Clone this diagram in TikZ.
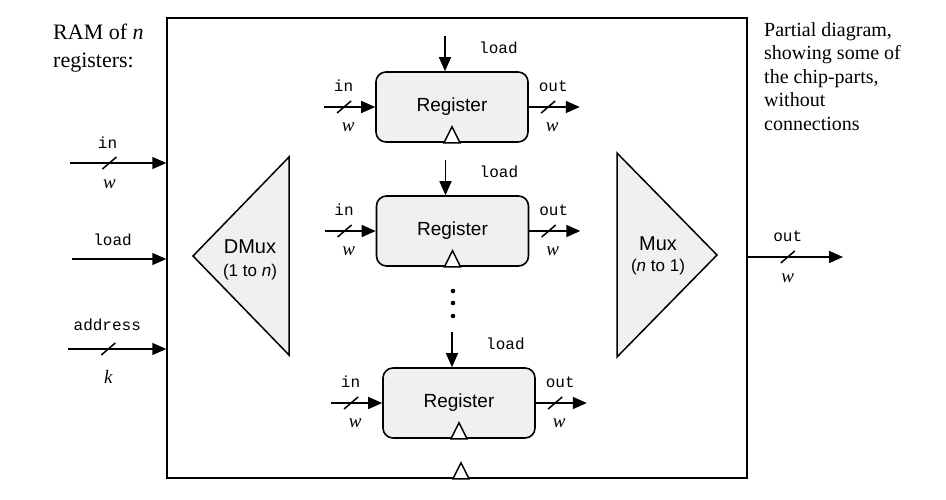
\documentclass[tikz,border=0pt]{standalone}
\usepackage{fontspec}
\setmainfont{Liberation Serif}
\setsansfont{Liberation Sans}
\setmonofont{Liberation Mono}
\usetikzlibrary{arrows.meta,decorations.markings}
\definecolor{gfill}{HTML}{F0F0F0}
\begin{document}
\begin{tikzpicture}[x=1pt,y=-1pt,
  arr/.style={line width=1.5pt,-{Triangle[length=14pt,width=12pt]}},
  bus/.style={postaction={decorate},decoration={markings,mark=at position #1 with {\draw[line width=1.5pt,-] (-7pt,-6pt)--(7pt,6pt);}}},
  regbox/.style={draw,line width=1.6pt,rounded corners=10pt,fill=gfill,minimum width=152pt,minimum height=70pt,inner sep=0pt,font=\sffamily\fontsize{19}{22}\selectfont},
  tri/.style={draw,line width=1.5pt,fill=gfill,line join=miter},
  clk/.style={draw,line width=1.5pt,fill=white,line join=miter},
  monolab/.style={font=\ttfamily\fontsize{16}{18}\selectfont,inner sep=1pt},
  wlab/.style={font=\fontsize{19}{22}\selectfont\itshape,inner sep=1pt},
  sflab/.style={font=\sffamily\fontsize{20}{22}\selectfont,inner sep=0pt},
  sfsmall/.style={font=\sffamily\fontsize{17}{20}\selectfont,inner sep=0pt}
]
\useasboundingbox (0,0) rectangle (946,500);

% main RAM box
\node[draw,line width=1.5pt,minimum width=580pt,minimum height=460pt,inner sep=0pt] (ram) at (457,248) {};
\draw[clk] ([xshift=-4pt]ram.south) -- ([xshift=4pt,yshift=16pt]ram.south) -- ([xshift=12pt]ram.south) -- cycle;

% titles
\node[anchor=north west,align=left,font=\fontsize{22}{28}\selectfont,inner sep=0pt] (title) at (53,24) {RAM of \textit{n}\\registers:};
\node[anchor=north west,align=left,font=\fontsize{20}{23.5}\selectfont,inner sep=0pt] (note) at (764,22) {Partial diagram,\\showing some of\\the chip-parts,\\without\\connections};

% RAM inputs
\coordinate (inA) at (70,163);
\draw[arr,bus=0.41] (inA) -- (inA -| ram.west)
  node[pos=0.39,yshift=20pt,monolab] (inAl) {in}
  node[pos=0.41,yshift=-21pt,wlab] (inAw) {w};
\coordinate (ldA) at (72,259);
\draw[arr] (ldA) -- (ldA -| ram.west)
  node[pos=0.43,yshift=19pt,monolab] (ldAl) {load};
\coordinate (adA) at (68,349);
\draw[arr,bus=0.41] (adA) -- (adA -| ram.west)
  node[pos=0.40,yshift=24pt,monolab] (adAl) {address}
  node[pos=0.41,yshift=-28pt,wlab] (adAk) {k};

% RAM output
\coordinate (outA) at (843,257);
\draw[arr,bus=0.42] (outA -| ram.east) -- (outA)
  node[pos=0.42,yshift=21pt,monolab] (outAl) {out}
  node[pos=0.42,yshift=-21pt,wlab] (outAw) {w};

% DMux and Mux
\draw[tri] (193,256) -- (289,157) -- (289,355) -- cycle;
\node[sflab] (dmuxT) at (250,247) {DMux};
\node[sfsmall] (dmuxS) at (250,272) {(1 to \textit{n})};
\draw[tri] (617,153) -- (717,255) -- (617,357) -- cycle;
\node[sflab] (muxT) at (658,244) {Mux};
\node[sfsmall] (muxS) at (658,267) {(\textit{n} to 1)};

% registers
\foreach \n/\x/\y in {r1/452/107, r2/452.5/231, r3/459/403} {
  \node[regbox] (\n) at (\x,\y) {Register};
  \draw[clk] ([xshift=-8pt]\n.south) -- ([yshift=16pt]\n.south) -- ([xshift=8pt]\n.south) -- cycle;
  % load
  \coordinate (\n ld) at ([xshift=-7pt,yshift=35pt]\n.north);
  \draw[arr] (\n ld) -- (\n ld |- \n.north);
  \node[monolab,anchor=west] (\n ldl) at ([xshift=33pt,yshift=-12pt]\n ld) {load};
  % in
  \coordinate (\n in) at ([xshift=-51pt]\n.west);
  \draw[arr,bus=0.39] (\n in) -- (\n.west)
    node[pos=0.38,yshift=21pt,monolab] (\n inl) {in}
    node[pos=0.47,yshift=-20pt,wlab] (\n inw) {w};
  % out
  \coordinate (\n out) at ([xshift=51pt]\n.east);
  \draw[arr,bus=0.38] (\n.east) -- (\n out)
    node[pos=0.48,yshift=21pt,monolab] (\n outl) {out}
    node[pos=0.46,yshift=-20pt,wlab] (\n outw) {w};
}

% ellipsis dots
\fill (453,291) circle (2.3pt);
\fill (453,303) circle (2.3pt);
\fill (453,316) circle (2.3pt);
\end{tikzpicture}
\end{document}
